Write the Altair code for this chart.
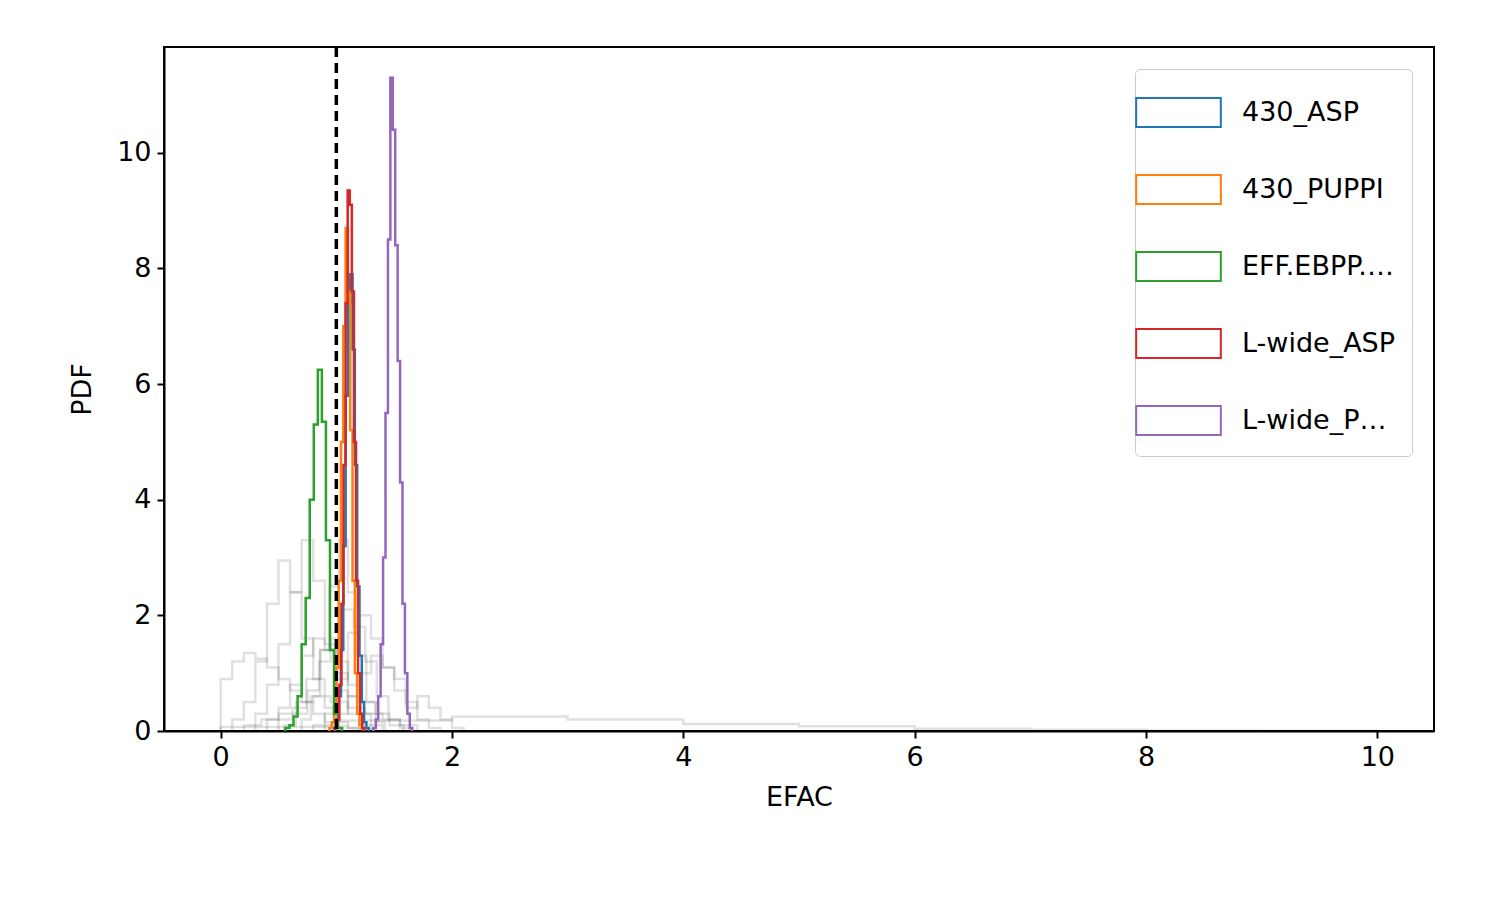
import pandas as pd
import altair as alt

# coloured pulsar-backend histograms: bin start, bin width, densities
names = ["430_ASP", "430_PUPPI", "EFF.EBPP.1410", "L-wide_ASP", "L-wide_PUPPI"]
colors = ["#1f77b4", "#ff7f0e", "#2ca02c", "#d62728", "#9467bd"]
starts = [0.98, 0.94, 0.56, 0.99, 1.32]
widths = [0.02, 0.02, 0.035, 0.018, 0.021]
dens = [
    [0.05, 0.2, 0.6, 1.4, 3.2, 5.8, 7.4, 7.9, 6.6, 4.6, 2.5, 1.3, 0.5, 0.15, 0.05],
    [0.05, 0.15, 0.4, 1.1, 2.6, 5.0, 7.0, 8.7, 7.6, 5.2, 2.6, 1.0, 0.3, 0.1, 0.05],
    [0.05, 0.1, 0.25, 0.6, 1.5, 2.3, 4.0, 5.3, 6.25, 5.35, 3.3, 1.4, 0.3, 0.05],
    [0.05, 0.2, 0.8, 2.2, 4.6, 7.4, 9.35, 9.1, 7.6, 5.0, 2.6, 1.0, 0.3, 0.05],
    [0.05, 0.2, 0.6, 1.5, 3.0, 5.5, 8.5, 11.3, 10.4, 8.4, 6.4, 4.3, 2.2, 1.0, 0.3, 0.05],
]

# faint grey histograms from the individual noise samples
grey_starts = [0.0, 0.1, 0.3, 0.4, 0.55, 0.7, 0.8, 0.2, 0.5, 0.9, 0.0]
grey_widths = [0.1, 0.1, 0.1, 0.1, 0.1, 0.08, 0.1, 0.15, 0.12, 0.1, 1.0]
grey_dens = [
    [0.9, 1.2, 1.35, 1.25, 1.1, 0.9, 0.7, 0.5, 0.3, 0.15, 0.08, 0.05, 0.03],
    [0.2, 0.5, 1.2, 2.2, 2.95, 2.4, 1.6, 0.9, 0.4, 0.15, 0.05],
    [0.3, 0.8, 1.5, 2.4, 3.3, 2.6, 1.5, 0.7, 0.3, 0.1],
    [0.2, 0.4, 0.8, 1.3, 1.6, 1.4, 1.0, 0.6, 0.3, 0.1],
    [0.1, 0.3, 0.7, 1.2, 1.6, 2.1, 1.8, 1.2, 0.6, 0.2, 0.05],
    [0.2, 0.6, 1.4, 2.5, 3.3, 2.4, 1.3, 0.5, 0.15],
    [0.1, 0.3, 0.9, 1.7, 2.0, 1.6, 1.1, 0.9, 0.5, 0.2, 0.05],
    [0.1, 0.2, 0.3, 0.5, 0.6, 0.5, 0.4, 0.3, 0.2, 0.1],
    [0.2, 0.4, 0.9, 1.4, 1.2, 0.8, 0.5, 0.3, 0.1],
    [0.1, 0.3, 0.6, 1.0, 1.3, 1.1, 0.7, 0.4, 0.6, 0.4, 0.2, 0.05],
    [0.07, 0.18, 0.25, 0.2, 0.12, 0.08, 0.04, 0.02, 0.01, 0.005],
]


def steps(name, start, width, values):
    rows = [(name, start, 0.0)]
    for i, v in enumerate(values):
        rows.append((name, start + i * width, v))
    rows.append((name, start + len(values) * width, 0.0))
    return rows


col_rows = []
for n, s, w, d in zip(names, starts, widths, dens):
    col_rows += steps(n, s, w, d)
col_df = pd.DataFrame(col_rows, columns=["backend", "x", "y"])

grey_rows = []
for i, (s, w, d) in enumerate(zip(grey_starts, grey_widths, grey_dens)):
    grey_rows += steps(f"g{i}", s, w, d)
grey_df = pd.DataFrame(grey_rows, columns=["sample", "x", "y"])

xs = alt.Scale(domain=[-0.49, 10.49], nice=False, zero=False)
ys = alt.Scale(domain=[0, 11.83], nice=False)
xax = alt.Axis(values=[0, 2, 4, 6, 8, 10], format="d", grid=False, tickSize=7, labelPadding=6, titlePadding=14)
yax = alt.Axis(values=[0, 2, 4, 6, 8, 10], format="d", grid=False, tickSize=7, labelPadding=6, titlePadding=20)

grey = alt.Chart(grey_df).mark_line(interpolate="step-after", color="black", opacity=0.12, strokeWidth=2.5).encode(
    x=alt.X("x:Q", scale=xs, axis=xax, title="EFAC"),
    y=alt.Y("y:Q", scale=ys, axis=yax, title="PDF"),
    detail="sample:N",
)

rect = "M-1.6,-0.55L1.6,-0.55L1.6,0.55L-1.6,0.55Z"
coloured = alt.Chart(col_df).mark_line(interpolate="step-after", strokeWidth=2.5).encode(
    x=alt.X("x:Q", scale=xs),
    y=alt.Y("y:Q", scale=ys),
    color=alt.Color("backend:N", scale=alt.Scale(domain=names, range=colors),
                    legend=alt.Legend(title=None, orient="top-right", symbolType=rect, symbolSize=2800,
                                      symbolStrokeWidth=2, labelFontSize=27, labelFont="DejaVu Sans",
                                      labelOffset=36, rowPadding=30, padding=16, offset=22,
                                      strokeColor="#cccccc", fillColor="white", cornerRadius=5)),
)

vline = alt.Chart(pd.DataFrame({"x": [1.0]})).mark_rule(color="black", strokeDash=[10, 6], strokeWidth=3.5).encode(
    x=alt.X("x:Q", scale=xs)
)

chart = (grey + coloured + vline).properties(
    width=1270, height=684, padding={"left": 60, "top": 37, "right": 5, "bottom": 5}
).configure_axis(
    labelFontSize=27, titleFontSize=27, labelFont="DejaVu Sans", titleFont="DejaVu Sans",
    labelColor="black", titleColor="black", domainColor="black", tickColor="black",
    titleFontWeight="normal", domainWidth=2, tickWidth=2,
).configure_view(stroke="black", strokeWidth=2)

chart.save("out.html", embed_options={"renderer": "svg", "actions": False})
